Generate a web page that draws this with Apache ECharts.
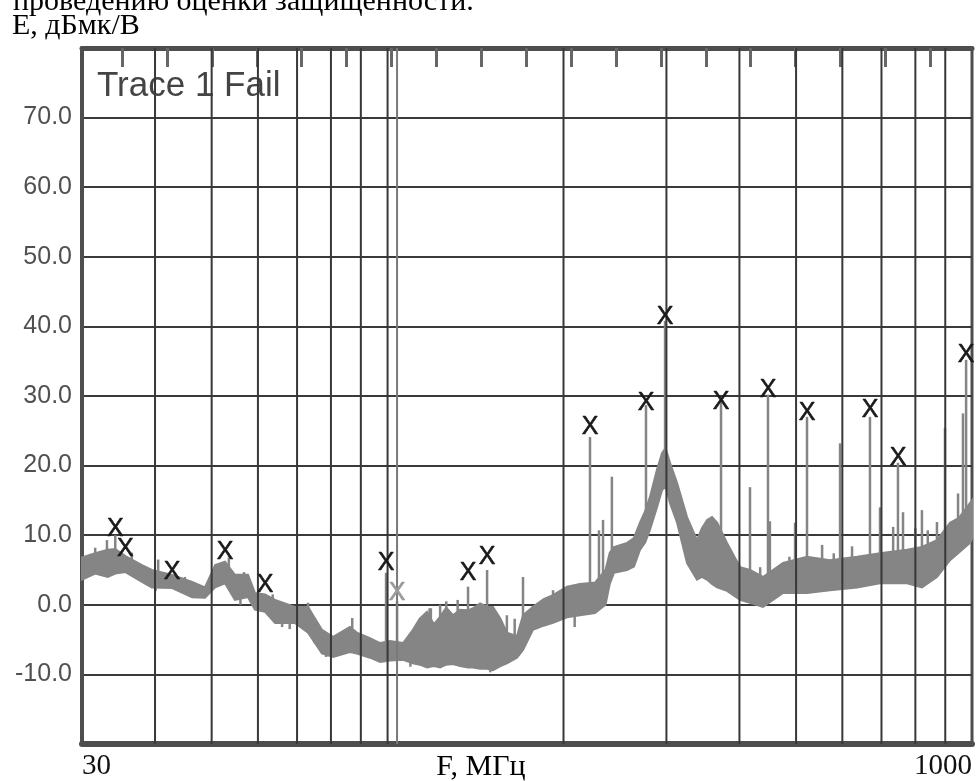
<!DOCTYPE html>
<html><head><meta charset="utf-8">
<script src="https://cdn.jsdelivr.net/npm/echarts@6/dist/echarts.min.js"></script>
<style>html,body{margin:0;padding:0;background:#fff;}#c{width:979px;height:781px;}</style>
</head><body><div id="c"></div>
<script>
// ---- axes ----
const xRange = [30, 1000];
const yRange = [-20, 80];
const yTickLabels = [-10, 0, 10, 20, 30, 40, 50, 60, 70];
const xTickLabels = [30, 1000];
const xGridFreqs = [40, 50, 60, 70, 80, 90, 100, 200, 300, 400, 500, 600, 700, 800, 900];
const extraLineFreqs = [103.8];
const topTickRange = [0.107, 19.93];
const topTickValues = [1, 2, 3, 4, 5, 6, 7, 8, 9, 10, 11, 12, 13, 14, 15, 16, 17, 18, 19];

// ---- noise band of the trace (MHz, dB) ----
const bandFreq = [30, 31.6, 33.2, 34.2, 35.6, 38.0, 39.5, 42.8, 46.3, 48.7, 50.7, 52.7, 54.8, 57.7, 59.3, 61.7, 64.2, 69.4, 73.1, 77.2, 80.7, 86.2, 88.6, 93.3, 97.1, 101, 106.3, 110.5, 113.5, 116.8, 120, 123, 126, 129.4, 133, 137.3, 140, 144, 148, 151.5, 156, 160, 166.5, 170.5, 177.3, 185, 191.9, 202.8, 213.4, 226.4, 236, 240, 244, 256.9, 264, 270.3, 276, 281.2, 289, 294.9, 299, 304.3, 312.9, 325.4, 338.4, 345, 352.2, 359, 366.3, 380.9, 401, 417, 438.9, 475, 522, 571.5, 636, 696, 774, 821, 871, 917, 950, 992, 1000];
const bandLow = [3.6, 4.5, 4.0, 4.5, 4.7, 3.3, 2.5, 2.4, 1.1, 1.0, 2.5, 3.1, 0.7, 1.1, -0.7, -1.0, -2.6, -2.6, -4.0, -7.0, -7.5, -6.8, -7.0, -7.6, -8.2, -8.0, -7.9, -8.4, -8.6, -9.0, -8.8, -9.0, -8.6, -8.5, -8.8, -9.0, -9.0, -9.2, -9.2, -9.4, -8.8, -8.4, -7.6, -6.5, -3.6, -3.0, -2.6, -1.8, -1.5, -1.2, 0.0, 3.0, 4.6, 5.0, 5.5, 7.9, 9.0, 10.8, 14.0, 16.5, 17.0, 14.6, 11.8, 6.0, 3.6, 4.0, 3.6, 3.0, 2.5, 2.0, 0.7, 0.3, -0.3, 1.7, 1.7, 2.1, 2.5, 3.1, 3.1, 2.5, 4.0, 6.4, 7.5, 8.9, 9.5];
const bandHigh = [6.8, 7.4, 7.9, 8.0, 7.0, 5.7, 5.0, 4.3, 3.3, 2.5, 5.7, 6.2, 4.3, 4.3, 1.7, 1.5, 0.7, -0.3, -0.3, -3.6, -4.6, -3.2, -4.0, -4.8, -5.5, -5.2, -5.5, -3.6, -2.0, -1.0, -2.8, -1.7, -0.4, -1.5, -0.7, -0.8, -0.5, 0.2, -0.3, -0.3, -2.0, -4.0, -4.5, -1.5, -0.3, 0.8, 1.4, 2.6, 3.0, 3.2, 5.0, 7.5, 8.3, 8.9, 9.6, 11.8, 13.5, 15.5, 19.4, 21.8, 22.5, 20.4, 17.5, 12.6, 9.3, 11.0, 12.2, 12.6, 11.8, 8.9, 5.4, 5.0, 4.0, 6.0, 6.9, 6.4, 6.9, 7.4, 7.9, 8.3, 9.3, 11.8, 12.5, 14.6, 15.0];

// ---- narrow spikes and short noise strokes (MHz, start dB, end dB) ----
const spikeFreq = [31.6, 33.1, 34.2, 36.5, 40.5, 53.5, 99.4, 103.8, 118, 126, 137.3, 148, 170.5, 222, 230, 233.7, 242, 276.8, 298.4, 310, 372, 417, 447.6, 451, 498, 522, 554, 594.6, 623.4, 669, 696, 733, 747, 762, 821, 871, 899, 946.5, 965, 977,
  40.1, 45, 56, 56.8, 63.6, 66, 68, 73.1, 75, 78.5, 87, 109.4, 118.6, 123, 131.8, 149.9, 160, 165, 191.9, 207, 209, 434, 487, 580, 800, 840];
const spikeTop = [8.2, 9.3, 10.0, 7.5, 6.5, 6.8, 4.6, 0.5, -0.5, 0.5, 2.6, 5.0, 4.0, 24.1, 10.7, 12.2, 18.4, 28.7, 40.8, 17.9, 29.4, 16.9, 30.2, 12.0, 11.8, 27.0, 8.6, 23.2, 8.4, 27.0, 14.0, 11.2, 20.4, 13.3, 13.6, 11.9, 25.4, 16.0, 27.5, 35.2,
  2.0, 4.0, 0.0, 4.7, 1.5, -3.2, -3.5, 0.3, -5.5, -7.5, -1.9, -8.9, -0.5, 0.0, 0.7, -9.7, -1.5, -2.0, 2.1, 2.8, -3.2, 5.4, 6.9, 7.4, 11.0, 10.7];
const spikeBase = [5, 5, 5, 5, 3, 3, -6, -6, -5, -5, -4, -4, -5, 1, 1, 1, 5, 10, 18, 14, 6, 2, 2, 2, 3, 3, 3, 3, 3, 4, 4, 4, 4, 4, 4, 6, 8, 10, 11, 11,
  4, 2.5, 2.5, 2.5, 0, -1.5, -1.5, -2, -3, -5, -4, -6, -5, -5, -5, -5, -6, -6, 0, 0.5, 0.5, 2, 3, 4, 5, 5];

// ---- peak markers ----
const markerFreq = [34.2, 35.6, 42.8, 52.7, 61.7, 99.4, 103.8, 137.3, 148, 222, 276.8, 298.4, 372, 447.6, 522, 669, 747, 977];
const markerLevel = [10.9, 8.0, 4.7, 7.6, 2.8, 6.0, 1.7, 4.6, 6.9, 25.5, 29.0, 41.4, 29.1, 30.9, 27.6, 28.0, 21.1, 35.9];
const markerFaded = [0, 0, 0, 0, 0, 0, 1, 0, 0, 0, 0, 0, 0, 0, 0, 0, 0, 0];

const chart = echarts.init(document.getElementById('c'), null, {renderer: 'canvas'});
const serif = '"Liberation Serif", "Times New Roman", serif';
const sans = '"Liberation Sans", Arial, sans-serif';

const option = {
  animation: false,
  backgroundColor: '#ffffff',
  grid: {left: 82, top: 48, width: 890, height: 696, show: true, borderColor: '#4e4e4e', borderWidth: 3, backgroundColor: 'transparent'},
  xAxis: [
    {
      type: 'log', logBase: 10, min: xRange[0], max: xRange[1], position: 'bottom',
      axisLine: {show: true, onZero: false, lineStyle: {color: '#4e4e4e', width: 6}},
      axisTick: {show: false},
      splitLine: {show: false},
      minorTick: {show: false},
      axisLabel: {
        customValues: xTickLabels, margin: 8, alignMinLabel: 'left', alignMaxLabel: 'right',
        fontFamily: serif, fontSize: 29, color: '#111', showMinLabel: true, showMaxLabel: true,
        formatter: v => String(Math.round(v))
      }
    },
    {
      type: 'value', min: topTickRange[0], max: topTickRange[1], position: 'top',
      axisLine: {show: true, onZero: false, lineStyle: {color: '#4e4e4e', width: 5}},
      axisTick: {show: true, inside: true, length: 19, customValues: topTickValues, lineStyle: {color: '#666', width: 3}},
      axisLabel: {show: false},
      splitLine: {show: false}
    }
  ],
  yAxis: {
    type: 'value', min: yRange[0], max: yRange[1], interval: 10,
    axisLine: {show: true, onZero: false, lineStyle: {color: '#4e4e4e', width: 4}},
    axisTick: {show: false},
    splitLine: {show: true, lineStyle: {color: '#3a3a3a', width: 2}},
    axisLabel: {
      margin: 10, fontFamily: sans, fontSize: 25, color: '#505050',
      formatter: v => yTickLabels.indexOf(v) >= 0 ? v.toFixed(1) : ''
    }
  },
  graphic: [
    {type: 'text', x: 13, y: 2, z: 100, style: {text: 'проведению оценки защищенности.', font: '30px ' + serif, fill: '#000', align: 'left', verticalAlign: 'middle'}},
    {type: 'text', x: 12, y: 26, z: 100, style: {text: 'Е, дБмк/В', font: '30px ' + serif, fill: '#000', align: 'left', verticalAlign: 'middle'}},
    {type: 'text', x: 481, y: 767, z: 100, style: {text: 'F, МГц', font: '30px ' + serif, fill: '#000', align: 'center', verticalAlign: 'middle'}},
    {type: 'text', x: 97, y: 86, z: 1, style: {text: 'Trace 1 Fail', font: '35px ' + sans, fill: '#444', align: 'left', verticalAlign: 'middle'}}
  ],
  series: [
    {
      name: 'band', type: 'custom', z: 2, silent: true,
      data: bandFreq.map((f, i) => [f, bandLow[i], bandHigh[i]]),
      encode: {x: 0, y: [1, 2]},
      renderItem: function (params, api) {
        if (params.dataIndex !== 0) return null;
        const pts = [];
        for (let i = 0; i < bandFreq.length; i++) pts.push(api.coord([bandFreq[i], bandHigh[i]]));
        for (let i = bandFreq.length - 1; i >= 0; i--) pts.push(api.coord([bandFreq[i], bandLow[i]]));
        return {type: 'polygon', shape: {points: pts}, style: {fill: '#858585', stroke: '#858585', lineWidth: 2}};
      }
    },
    {
      name: 'spikes', type: 'custom', z: 2, silent: true,
      data: spikeFreq.map((f, i) => [f, spikeBase[i], spikeTop[i]]),
      encode: {x: 0, y: [1, 2]},
      renderItem: function (params, api) {
        const a = api.coord([api.value(0), api.value(1)]);
        const b = api.coord([api.value(0), api.value(2)]);
        return {type: 'line', shape: {x1: a[0], y1: a[1], x2: b[0], y2: b[1]}, style: {stroke: '#858585', lineWidth: 2.5}};
      }
    },
    {
      name: 'vgrid', type: 'custom', z: 3, silent: true,
      data: xGridFreqs.map(f => [f, yRange[0], yRange[1], 0]).concat(extraLineFreqs.map(f => [f, yRange[0], yRange[1], 1])),
      encode: {x: 0, y: [1, 2]},
      renderItem: function (params, api) {
        const a = api.coord([api.value(0), api.value(1)]);
        const b = api.coord([api.value(0), api.value(2)]);
        const extra = api.value(3) === 1;
        return {type: 'line', shape: {x1: a[0], y1: a[1], x2: b[0], y2: b[1]}, style: {stroke: extra ? '#7a7a7a' : '#383838', lineWidth: 2}};
      }
    },
    {
      name: 'markers', type: 'custom', z: 4, silent: true,
      data: markerFreq.map((f, i) => [f, markerLevel[i], markerFaded[i]]),
      encode: {x: 0, y: 1},
      renderItem: function (params, api) {
        const p = api.coord([api.value(0), api.value(1)]);
        const faded = api.value(2) === 1;
        return {type: 'text', x: p[0], y: p[1], style: {text: 'X', font: '25px ' + sans, fill: faded ? '#9a9a9a' : '#1a1a1a', stroke: faded ? '#9a9a9a' : '#1a1a1a', lineWidth: 0.6, align: 'center', verticalAlign: 'middle'}};
      }
    }
  ]
};
chart.setOption(option);
</script>
</body></html>
